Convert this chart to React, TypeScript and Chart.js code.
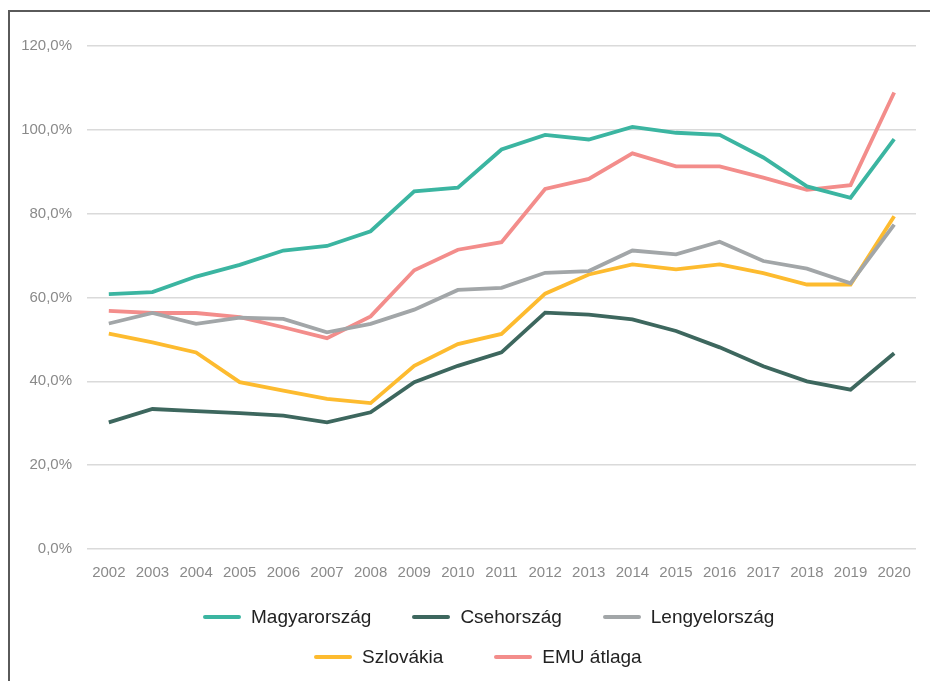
import React, { useEffect, useRef } from "react";
import { Chart, registerables } from "chart.js";

Chart.register(...registerables);

const years = ["2002","2003","2004","2005","2006","2007","2008","2009","2010","2011","2012","2013","2014","2015","2016","2017","2018","2019","2020"];

const magyarorszag = [60.8, 61.3, 65.0, 67.8, 71.2, 72.3, 75.8, 85.3, 86.2, 95.3, 98.8, 97.7, 100.7, 99.3, 98.8, 93.4, 86.5, 83.8, 97.8];
const csehorszag = [30.2, 33.4, 32.9, 32.4, 31.8, 30.2, 32.6, 39.8, 43.7, 46.9, 56.4, 55.9, 54.8, 52.0, 48.1, 43.6, 40.0, 38.0, 46.7];
const lengyelorszag = [53.8, 56.3, 53.7, 55.2, 54.9, 51.7, 53.7, 57.1, 61.8, 62.3, 65.9, 66.3, 71.2, 70.3, 73.3, 68.7, 66.9, 63.4, 77.4];
const szlovakia = [51.4, 49.3, 46.9, 39.8, 37.8, 35.8, 34.8, 43.7, 48.9, 51.3, 60.9, 65.5, 67.9, 66.7, 67.9, 65.8, 63.1, 63.1, 79.4];
const emuAtlaga = [56.8, 56.3, 56.3, 55.3, 52.9, 50.3, 55.5, 66.5, 71.4, 73.2, 85.9, 88.3, 94.4, 91.3, 91.3, 88.6, 85.7, 86.8, 108.9];

const seriesNames = ["Magyarország", "Csehország", "Lengyelország", "Szlovákia", "EMU átlaga"];
const seriesColors = ["#3bb5a1", "#3d675e", "#a2a6a8", "#fdbb2f", "#f38d8b"];
const seriesValues = [magyarorszag, csehorszag, lengyelorszag, szlovakia, emuAtlaga];

const FONT = "'Liberation Sans', Arial, sans-serif";

function LegendItem({ name, color }: { name: string; color: string }) {
  return (
    <div style={{ display: "flex", alignItems: "center" }}>
      <div style={{ width: 38, height: 4, background: color, borderRadius: 2, marginRight: 10 }} />
      <span style={{ fontSize: 19, color: "#222", fontFamily: FONT }}>{name}</span>
    </div>
  );
}

export default function App() {
  const ref = useRef<HTMLCanvasElement | null>(null);

  useEffect(() => {
    if (!ref.current) return;
    const chart = new Chart(ref.current, {
      type: "line",
      data: {
        labels: years,
        datasets: seriesNames.map((name, i) => ({
          label: name,
          data: seriesValues[i],
          borderColor: seriesColors[i],
          backgroundColor: seriesColors[i],
          borderWidth: 3.8,
          pointRadius: 0,
          tension: 0,
          fill: false,
        })),
      },
      options: {
        responsive: false,
        animation: false,
        layout: { padding: { top: 34, right: 14, bottom: 6, left: 0 } },
        plugins: {
          legend: { display: false },
          tooltip: { enabled: false },
        },
        scales: {
          x: {
            offset: true,
            grid: { display: false, drawTicks: false },
            border: { display: false },
            ticks: {
              color: "#8a8a8a",
              font: { family: FONT, size: 15 },
              padding: 15,
              maxRotation: 0,
              autoSkip: false,
            },
          },
          y: {
            min: 0,
            max: 120,
            afterFit: (scale: any) => {
              scale.width = 77;
            },
            grid: { color: "#dadada", lineWidth: 1.5, drawTicks: false },
            border: { display: false },
            ticks: {
              stepSize: 20,
              color: "#8a8a8a",
              font: { family: FONT, size: 15 },
              padding: 15,
              callback: (v: any) => Number(v).toFixed(1).replace(".", ",") + "%",
            },
          },
        },
      },
    });
    return () => chart.destroy();
  }, []);

  return (
    <div
      style={{
        position: "fixed",
        left: 8,
        top: 10,
        borderTop: "2px solid #5a5a5a",
        borderLeft: "2px solid #5a5a5a",
        width: 920,
        height: 669,
        overflow: "hidden",
        background: "#fff",
      }}
    >
      <canvas ref={ref} width={920} height={591} style={{ display: "block" }} />
      <div style={{ position: "absolute", left: 0, top: 585, width: 920 }}>
        <div style={{ height: 40, display: "flex", alignItems: "center", paddingLeft: 193, gap: 41 }}>
          {[0, 1, 2].map((i) => (
            <LegendItem key={i} name={seriesNames[i]} color={seriesColors[i]} />
          ))}
        </div>
        <div style={{ height: 40, display: "flex", alignItems: "center", paddingLeft: 304, gap: 51 }}>
          {[3, 4].map((i) => (
            <LegendItem key={i} name={seriesNames[i]} color={seriesColors[i]} />
          ))}
        </div>
      </div>
    </div>
  );
}
